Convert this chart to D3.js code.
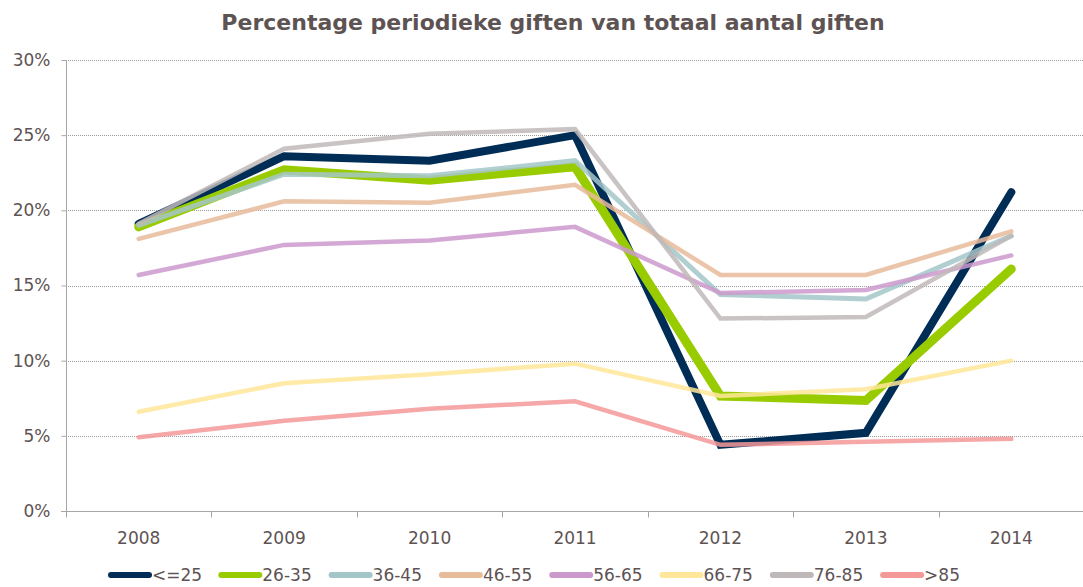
<!DOCTYPE html>
<html>
<head>
<meta charset="utf-8">
<script src="https://cdn.jsdelivr.net/npm/d3@7"></script>
<style>
  body { margin: 0; background: #fff; }
  svg { display: block; font-family: "DejaVu Sans", Verdana, sans-serif; }
</style>
</head>
<body>
<svg width="1083" height="587"></svg>
<script>
// data (percent)
const years = ["2008", "2009", "2010", "2011", "2012", "2013", "2014"];
const groups = ["<=25", "26-35", "36-45", "46-55", "56-65", "66-75", "76-85", ">85"];
const le25 = [19.1, 23.6, 23.3, 25.0, 4.4, 5.2, 21.2];
const g26_35 = [18.9, 22.7, 22.0, 22.9, 7.65, 7.35, 16.1];
const g36_45 = [19.0, 22.4, 22.3, 23.3, 14.4, 14.1, 18.3];
const g46_55 = [18.1, 20.6, 20.5, 21.7, 15.7, 15.7, 18.6];
const g56_65 = [15.7, 17.7, 18.0, 18.9, 14.5, 14.7, 17.0];
const g66_75 = [6.6, 8.5, 9.1, 9.8, 7.65, 8.1, 10.0];
const g76_85 = [19.1, 24.1, 25.1, 25.4, 12.8, 12.9, 18.3];
const gt85 = [4.9, 6.0, 6.8, 7.3, 4.4, 4.6, 4.8];
const yTicks = [0, 5, 10, 15, 20, 25, 30];

const colors = ["#002d56", "#99cc00", "#a3c6c9", "#e8bb9b", "#cc99cc", "#ffe699", "#bfb8b8", "#f59898"];
const widths = [8, 9, 5, 4.5, 4.5, 4.5, 4.5, 4.5];

const series = groups.map((g, i) => ({
  name: g,
  values: [le25, g26_35, g36_45, g46_55, g56_65, g66_75, g76_85, gt85][i],
  color: colors[i],
  width: widths[i]
}));

const svg = d3.select("svg");
const width = +svg.attr("width");
const margin = {top: 60, right: 0, bottom: 76, left: 66};
const plotBottom = 511;
const textColor = "#5e5353";

const x = d3.scaleBand()
  .domain(years)
  .range([margin.left, 1084]);

const y = d3.scaleLinear()
  .domain([0, 30])
  .range([plotBottom, margin.top]);

// title
svg.append("text")
  .attr("x", 553)
  .attr("y", 30)
  .attr("text-anchor", "middle")
  .style("font-size", "22px")
  .style("font-weight", "bold")
  .style("fill", textColor)
  .text("Percentage periodieke giften van totaal aantal giften");

// gridlines
svg.append("g")
  .selectAll("line")
  .data(yTicks.filter(d => d > 0))
  .join("line")
    .attr("x1", margin.left)
    .attr("x2", width)
    .attr("y1", d => Math.round(y(d)) + 0.5)
    .attr("y2", d => Math.round(y(d)) + 0.5)
    .attr("stroke", "#9a9a9a")
    .attr("stroke-width", 1)
    .attr("stroke-dasharray", "1,1");

// y axis
const yAxis = svg.append("g")
  .attr("transform", `translate(${margin.left + 0.5},0)`)
  .call(d3.axisLeft(y).tickValues(yTicks).tickSize(5).tickPadding(11).tickFormat(d => d + "%"))
  .attr("font-family", null)
  .attr("font-size", null);
yAxis.select(".domain").attr("stroke", "#a6a6a6").attr("d", `M0,${margin.top}V${plotBottom + 6}`);
yAxis.selectAll(".tick line").attr("stroke", "#a6a6a6");
yAxis.selectAll(".tick text")
  .style("font-size", "17px")
  .style("fill", textColor);

// x axis
const xAxis = svg.append("g")
  .attr("transform", `translate(0,${plotBottom + 0.5})`)
  .call(d3.axisBottom(x).tickSize(0).tickPadding(20))
  .attr("font-family", null)
  .attr("font-size", null);
xAxis.select(".domain").attr("stroke", "#a6a6a6").attr("d", `M${margin.left - 5},0H${width}`);
xAxis.selectAll(".tick text")
  .style("font-size", "17px")
  .style("fill", textColor);
// boundary ticks between categories
xAxis.append("g")
  .selectAll("line")
  .data(years)
  .join("line")
    .attr("x1", d => Math.round(x(d)) + 0.5)
    .attr("x2", d => Math.round(x(d)) + 0.5)
    .attr("y1", 0)
    .attr("y2", 6)
    .attr("stroke", "#a6a6a6");

// lines
const line = d3.line()
  .x((d, i) => x(years[i]) + x.bandwidth() / 2)
  .y(d => y(d));

svg.append("g")
  .selectAll("path")
  .data(series)
  .join("path")
    .attr("d", d => line(d.values))
    .attr("fill", "none")
    .attr("stroke", d => d.color)
    .attr("stroke-width", d => d.width)
    .attr("stroke-linejoin", "miter")
    .attr("stroke-linecap", "round")
    .attr("stroke-opacity", (d, i) => i < 2 ? 1 : 0.85);

// legend
const legend = svg.append("g")
  .selectAll("g")
  .data(series)
  .join("g")
    .attr("transform", (d, i) => `translate(${111 + i * 110.3},575)`);

legend.append("line")
  .attr("x1", 0)
  .attr("x2", 38)
  .attr("stroke", d => d.color)
  .attr("stroke-width", 6)
  .attr("stroke-linecap", "round");

legend.append("text")
  .attr("x", 41)
  .attr("dy", "0.35em")
  .style("font-size", "17px")
  .style("fill", textColor)
  .text(d => d.name);
</script>
</body>
</html>
